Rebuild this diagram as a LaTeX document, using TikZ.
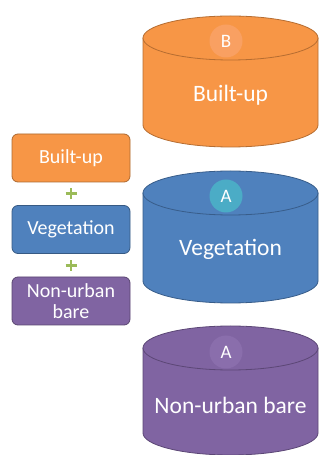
\documentclass[tikz,border=0pt]{standalone}
\usepackage{fontspec}
\setmainfont{Carlito}
\usetikzlibrary{calc}
\definecolor{orangeF}{HTML}{F79646}
\definecolor{orangeD}{HTML}{B66D31}
\definecolor{orangeC}{HTML}{F9A062}
\definecolor{blueF}{HTML}{4F81BD}
\definecolor{blueD}{HTML}{385D8A}
\definecolor{tealC}{HTML}{4BACC6}
\definecolor{purpF}{HTML}{8064A2}
\definecolor{purpD}{HTML}{5C4776}
\definecolor{purpC}{HTML}{8A6EAC}
\definecolor{plusG}{HTML}{9BBB59}
\tikzset{
  x=1pt, y=1pt,
  legend/.style={draw=#1!70!black, rounded corners=6pt, minimum width=118pt,
    minimum height=48pt, inner sep=2pt, text=white, align=center,
    font=\fontsize{20}{21}\selectfont, line width=0.8pt},
  tanklabel/.style={text=white, font=\fontsize{23.5}{26}\selectfont},
  badge/.style={circle, minimum size=33pt, inner sep=0pt, text=white,
    font=\fontsize{19}{20}\selectfont},
  plussign/.style={draw=plusG, line width=2.6pt},
}
% a vertical tank: #1 centre x, #2 top ellipse centre y, #3 bottom ellipse centre y, #4 fill, #5 line
\newcommand\drawtank[5]{%
  \fill[#4] (#1-87.5,#2) -- (#1-87.5,#3)
     arc[start angle=180,end angle=360,x radius=87.5,y radius=22]
     -- (#1+87.5,#2) -- cycle;
  \draw[#5, line width=0.8pt] (#1-87.5,#2) -- (#1-87.5,#3)
     arc[start angle=180,end angle=360,x radius=87.5,y radius=22]
     -- (#1+87.5,#2);
  \draw[#5, fill=#4, line width=0.8pt] (#1,#2) ellipse[x radius=87.5,y radius=22];
}
\begin{document}
\begin{tikzpicture}
\useasboundingbox (0,0) rectangle (328,455);
\fill[white] (0,0) rectangle (328,455);

% storage tanks
\drawtank{230.5}{417}{330}{orangeF}{orangeD}
\drawtank{230.5}{262}{174}{blueF}{blueD}
\drawtank{230.5}{107}{22}{purpF}{purpD}

\node[badge, fill=orangeC] (bB) at (226,414) {B};
\node[badge, fill=tealC] (bA1) at (226,259) {A};
\node[badge, fill=purpC] (bA2) at (226,103) {A};

\node[tanklabel] (tBuilt) at (230.5,360) {Built-up};
\node[tanklabel] (tVeg) at (230.5,206) {Vegetation};
\node[tanklabel] (tBare) at (230.5,50) {Non-urban bare};

% legend boxes
\node[legend=orangeF, fill=orangeF] (lBuilt) at (71,297) {Built-up};
\node[legend=blueF, fill=blueF] (lVeg) at (71,225.5) {Vegetation};
\node[legend=purpF, fill=purpF] (lBare) at (71,154) {Non-urban\\bare};

% plus signs between the boxes
\coordinate (p1) at ($(lBuilt.south)!0.5!(lVeg.north)$);
\coordinate (p2) at ($(lVeg.south)!0.5!(lBare.north)$);
\draw[plussign] ([xshift=-5.5pt]p1) -- ([xshift=5.5pt]p1);
\draw[plussign] ([yshift=-5.5pt]p1) -- ([yshift=5.5pt]p1);
\draw[plussign] ([xshift=-5.5pt]p2) -- ([xshift=5.5pt]p2);
\draw[plussign] ([yshift=-5.5pt]p2) -- ([yshift=5.5pt]p2);
\end{tikzpicture}
\end{document}
